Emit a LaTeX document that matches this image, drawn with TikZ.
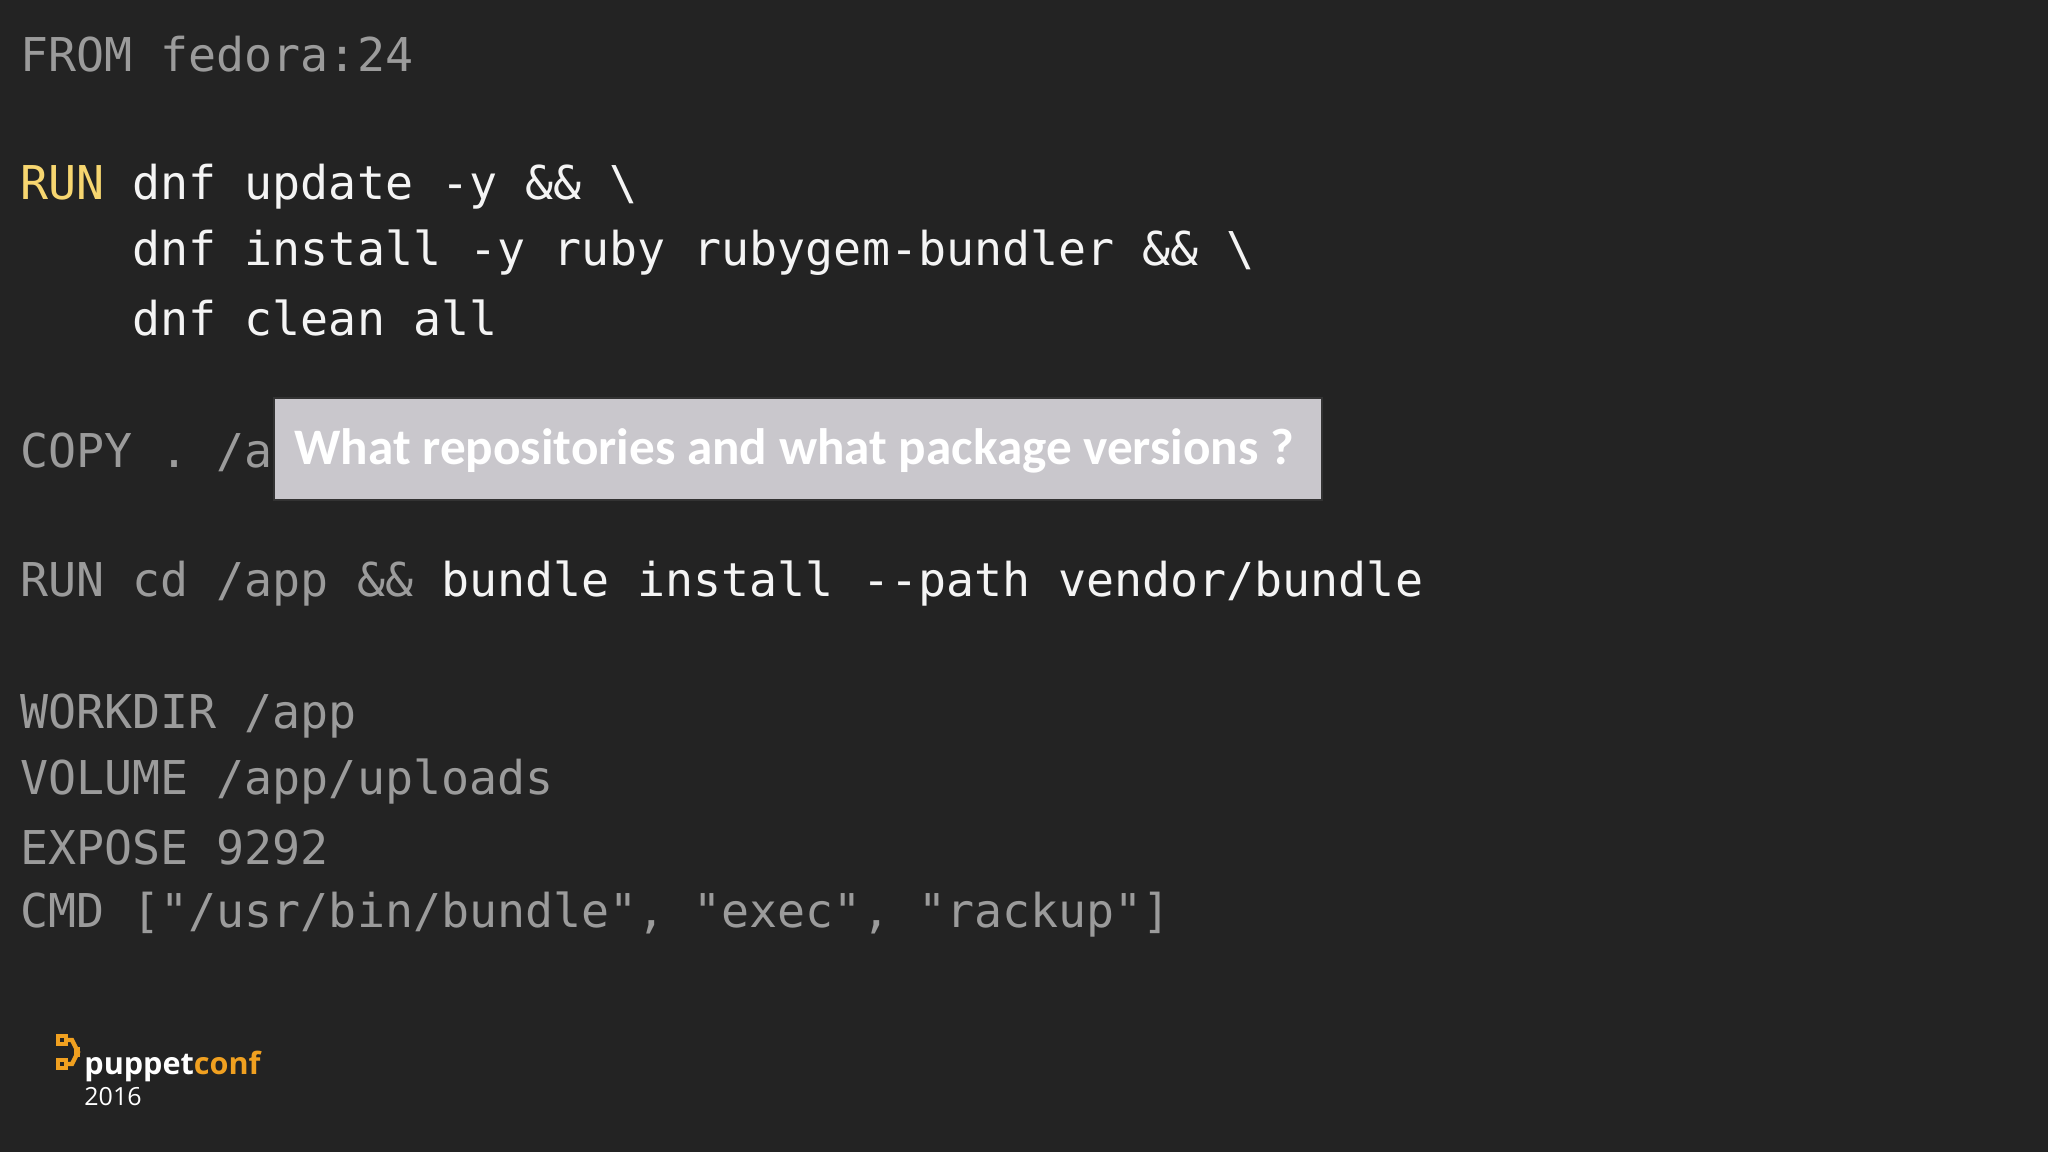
\documentclass[tikz,border=0pt]{standalone}
\usepackage{fontspec}
\setmainfont{Carlito}
\setmonofont{DejaVu Sans Mono}
\newfontfamily\logofont{Open Sans}
\definecolor{bg}{HTML}{232323}
\definecolor{gr}{HTML}{9B9B9B}
\definecolor{wh}{HTML}{F4F4F4}
\definecolor{yl}{HTML}{F7D670}
\definecolor{box}{HTML}{C9C7CC}
\definecolor{og}{HTML}{F0A020}
\begin{document}
\begin{tikzpicture}[x=0.5pt,y=-0.5pt,
  code/.style={anchor=west,inner sep=0pt,font=\fontsize{23.3}{28}\selectfont\ttfamily,text=gr}]
\fill[bg] (0,0) rectangle (2048,1152);
\useasboundingbox (0,0) rectangle (2048,1152);
\node[code] (l1) at (20,54) {FROM fedora:24};
\node[code,text=wh] (l2) at (20,187) {\textcolor{yl}{RUN}~dnf update -y \&\& \textbackslash};
\node[code,text=wh] (l3) at (20,253) {\phantom{RUN }dnf install -y ruby rubygem-bundler \&\& \textbackslash};
\node[code,text=wh] (l4) at (20,318) {\phantom{RUN }dnf clean all};
\node[code] (l5) at (20,452) {COPY . /a};
\node[code] (l6) at (20,584) {RUN cd /app \&\& \textcolor{wh}{bundle install --path vendor/bundle}};
\node[code] (l7) at (20,716) {WORKDIR /app};
\node[code] (l8) at (20,782) {VOLUME /app/uploads};
\node[code] (l9) at (20,848) {EXPOSE 9292};
\node[code] (l10) at (20,914) {CMD ["/usr/bin/bundle", "exec", "rackup"]};
\draw[fill=box,draw=black!80,line width=1.2pt] (274,398) rectangle (1322,500);
\node[anchor=west,inner sep=0pt,text=white,font=\fontsize{25.6}{30}\selectfont\bfseries] (q) at (294,451) {What repositories and what package versions ?};
% logo
\draw[og,line width=2.2pt] (58,1036) rectangle (66,1044);
\draw[og,line width=2.2pt] (58,1060) rectangle (66,1068);
\draw[og,line width=2.2pt] (66,1040) -- (72,1040) -- (78,1052) -- (72,1064) -- (66,1064);
\fill[og] (74,1047) rectangle (80,1057);
\node[anchor=base west,inner sep=0pt,font=\fontsize{15.3}{18}\selectfont\logofont\bfseries] (logo) at (84,1074) {\textcolor{white}{puppet}\textcolor{og}{conf}};
\node[anchor=base west,inner sep=0pt,font=\fontsize{12.5}{15}\selectfont\logofont,text=white] (yr) at (84,1105) {2016};
\end{tikzpicture}
\end{document}
